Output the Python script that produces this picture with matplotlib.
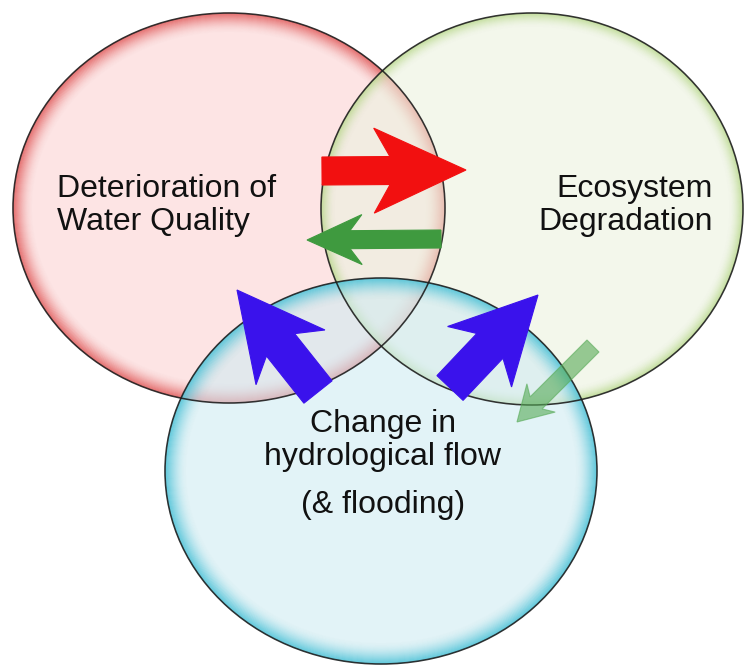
import numpy as np
import matplotlib
matplotlib.use("Agg")
import matplotlib.pyplot as plt
from matplotlib.patches import Ellipse, Polygon

# circle labels (one entry per line of text)
labels_red = ["Deterioration of", "Water Quality"]
labels_green = ["Ecosystem", "Degradation"]
labels_blue = ["Change in", "hydrological flow", "(& flooding)"]

# circles: centre x, centre y, half width, half height (pixel units)
circle_cx = [229, 532, 381]
circle_cy = [208, 209, 471]
circle_rx = [216, 211, 216]
circle_ry = [195, 196, 193]
circle_fill = ["#fcd2d2", "#ebf3df", "#d0ebf3"]
circle_rim = ["#e05858", "#b0d47e", "#46c0d6"]
circle_rim_px = [20, 14, 22]
circle_rim_alpha = [0.75, 0.6, 0.75]

# arrows: tail, tip, shaft width, head width, head length, sweep
arrow_tail = [(322, 171), (441, 239), (318, 392), (450, 388), (593, 346)]
arrow_tip = [(466, 170), (307, 240), (237, 290), (538, 295), (517, 422)]
arrow_shaft = [28, 18, 36, 36, 17]
arrow_head_w = [85, 50, 88, 88, 40]
arrow_head_len = [92, 55, 86, 85, 34]
arrow_sweep = [16, 12, 16, 15, 7]
arrow_color = ["#f21010", "#3f9a3f", "#3a12ec", "#3a12ec", "#56aa56"]
arrow_alpha = [1.0, 1.0, 1.0, 1.0, 0.6]

PX = 0.72  # one pixel in points at dpi 100


def arrow_poly(tail, tip, shaft_w, head_w, head_len, sweep):
    tail = np.array(tail, float)
    tip = np.array(tip, float)
    d = tip - tail
    u = d / np.hypot(*d)
    n = np.array([-u[1], u[0]])
    barb = tip - u * head_len
    join = tip - u * (head_len - sweep)
    return np.array([tail + n * shaft_w / 2, join + n * shaft_w / 2,
                     barb + n * head_w / 2, tip, barb - n * head_w / 2,
                     join - n * shaft_w / 2, tail - n * shaft_w / 2])


fig = plt.figure(figsize=(7.46, 6.68), dpi=100)
ax = fig.add_axes([0, 0, 1, 1])
ax.set_xlim(0, 746)
ax.set_ylim(668, 0)
ax.axis("off")

for i in range(3):
    cx, cy, rx, ry = circle_cx[i], circle_cy[i], circle_rx[i], circle_ry[i]
    ax.add_patch(Ellipse((cx, cy), 2 * rx, 2 * ry, facecolor=circle_fill[i],
                         edgecolor="none", alpha=0.6, zorder=1 + i))
    n = circle_rim_px[i]
    for k in range(n):
        a = circle_rim_alpha[i] * (1 - k / n) ** 2
        ax.add_patch(Ellipse((cx, cy), 2 * (rx - k - 0.5), 2 * (ry - k - 0.5),
                             facecolor="none", edgecolor=circle_rim[i],
                             lw=1.4 * PX, alpha=a, zorder=1.5 + i))
    ax.add_patch(Ellipse((cx, cy), 2 * rx, 2 * ry, facecolor="none",
                         edgecolor="#1e1e1e", lw=1.6 * PX, alpha=0.9, zorder=4))

for i in range(len(arrow_tail)):
    pts = arrow_poly(arrow_tail[i], arrow_tip[i], arrow_shaft[i],
                     arrow_head_w[i], arrow_head_len[i], arrow_sweep[i])
    ax.add_patch(Polygon(pts, closed=True, facecolor=arrow_color[i],
                         edgecolor=arrow_color[i], lw=0.8, alpha=arrow_alpha[i],
                         joinstyle="miter", zorder=5))

font = dict(family="Liberation Sans", fontsize=23, color="#111111", zorder=6)
for line, y in zip(labels_red, [197, 230]):
    ax.text(57, y, line, ha="left", va="baseline", **font)
for line, y in zip(labels_green, [197, 230]):
    ax.text(713, y, line, ha="right", va="baseline", **font)
for line, y in zip(labels_blue, [432, 465, 513]):
    ax.text(383, y, line, ha="center", va="baseline", **font)

fig.savefig("out.png", dpi=100)
